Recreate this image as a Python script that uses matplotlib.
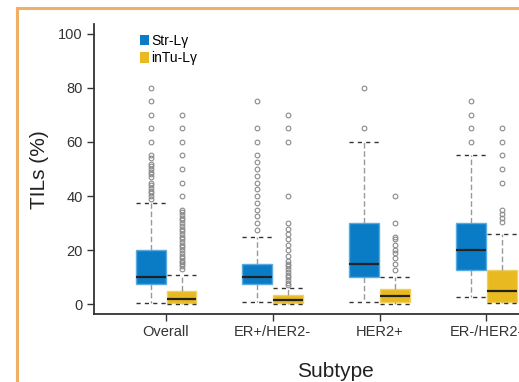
import matplotlib
matplotlib.use("Agg")
import matplotlib.pyplot as plt
from matplotlib.patches import Patch
from matplotlib.lines import Line2D

plt.rcParams['font.family'] = ['Liberation Sans Narrow', 'Liberation Sans', 'DejaVu Sans']

categories = ['Overall', 'ER+/HER2-', 'HER2+', 'ER-/HER2-']
series_names = ['Str-Lγ', 'inTu-Lγ']

# Str-Ly box statistics
str_q1 = [7.5, 7.5, 10, 12.5]
str_med = [10, 10, 15, 20]
str_q3 = [20, 15, 30, 30]
str_lo = [0.5, 1, 1, 2.5]
str_hi = [37.5, 25, 60, 55]
str_fliers = [
    [39, 40, 41, 42, 43, 44, 45, 47, 48, 49, 50, 51, 52, 54, 55, 60, 65, 70, 75, 80],
    [27.5, 30, 32.5, 35, 37.5, 40, 42.5, 45, 47.5, 50, 52.5, 55, 60, 65, 75],
    [65, 80],
    [60, 65, 70, 75],
]

# inTu-Ly box statistics
int_q1 = [0.5, 0.5, 1, 1]
int_med = [2, 1.5, 3, 5]
int_q3 = [5, 3.5, 5.5, 12.5]
int_lo = [0, 0, 0, 0.5]
int_hi = [11, 6, 10, 26]
int_fliers = [
    [13, 14, 15, 15.5, 16, 17, 18, 19, 20, 21, 22, 23, 24, 25, 26, 27, 28, 29, 30, 31,
     32, 33, 34, 35, 40, 45, 50, 55, 60, 65, 70],
    [7, 8, 9, 10, 11, 12, 13, 14, 15, 16, 18, 20, 22, 24, 26, 28, 30, 40, 60, 65, 70],
    [12.5, 15, 17, 19, 20, 22, 24, 25, 30, 40],
    [30.5, 32, 33.5, 35, 45, 50, 55, 60, 65],
]

blue = '#0a7cc6'
yellow = '#e8b920'
blue_edge = '#5aaae0'
yellow_edge = '#f2d060'

fig = plt.figure(figsize=(5.19, 3.82), dpi=100)
ax = fig.add_axes([94 / 519, 68 / 382, 436 / 519, 290 / 382])


def make_stats(q1, med, q3, lo, hi, fl):
    return [dict(q1=a, med=b, q3=c, whislo=d, whishi=e, fliers=f)
            for a, b, c, d, e, f in zip(q1, med, q3, lo, hi, fl)]


width = 0.28
offset = 0.145
common = dict(widths=width, patch_artist=True, manage_ticks=False,
              capwidths=width,
              whiskerprops=dict(color='#999999', lw=1.0, linestyle=(0, (4, 2))),
              capprops=dict(color='#333333', lw=1.0, linestyle=(0, (3, 3))),
              medianprops=dict(color='#222222', lw=1.6),
              flierprops=dict(marker='o', markersize=3.4, markerfacecolor='none',
                              markeredgecolor='#8a8a8a', markeredgewidth=0.8))

pos = list(range(len(categories)))
b1 = ax.bxp(make_stats(str_q1, str_med, str_q3, str_lo, str_hi, str_fliers),
            positions=[p - offset for p in pos],
            boxprops=dict(facecolor=blue, edgecolor=blue_edge, lw=1.0), **common)
b2 = ax.bxp(make_stats(int_q1, int_med, int_q3, int_lo, int_hi, int_fliers),
            positions=[p + offset for p in pos],
            boxprops=dict(facecolor=yellow, edgecolor=yellow_edge, lw=1.0), **common)

ax.set_xlim(-0.675, 3.41)
ax.set_ylim(-3.6, 103.6)
ax.set_xticks(pos)
ax.set_xticklabels(categories)
ax.set_yticks([0, 20, 40, 60, 80, 100])
for s in ['top', 'right']:
    ax.spines[s].set_visible(False)
for s in ['left', 'bottom']:
    ax.spines[s].set_color('#333333')
    ax.spines[s].set_linewidth(1.3)
ax.tick_params(axis='both', direction='out', length=5, width=1, color='#333333',
               labelcolor='#333333', labelsize=10.5, pad=3)

ax.set_ylabel('TILs (%)', fontsize=15, color='#222222')
ax.yaxis.set_label_coords(-0.124, 0.497)
ax.set_xlabel('Subtype', fontsize=15, color='#222222')
ax.xaxis.set_label_coords(0.553, -0.197)
ax.xaxis.label.set_va('center')
ax.yaxis.label.set_va('center')

handles = [Patch(facecolor=blue, edgecolor='none'), Patch(facecolor=yellow, edgecolor='none')]
ax.legend(handles, series_names, loc='upper left', frameon=False, fontsize=10,
          handlelength=0.65, handleheight=0.8, handletextpad=0.15, labelspacing=0.25,
          borderaxespad=0, borderpad=0,
          bbox_to_anchor=((140 - 94) / 436, (314 - 34) / 290))

frame_color = '#efb066'
fig.add_artist(Line2D([17 / 519, 17 / 519], [0, 1 - 8 / 382], transform=fig.transFigure,
                      color=frame_color, lw=2.2, solid_capstyle='projecting'))
fig.add_artist(Line2D([17 / 519, 1.0], [1 - 8 / 382, 1 - 8 / 382], transform=fig.transFigure,
                      color=frame_color, lw=2.2, solid_capstyle='projecting'))

fig.savefig('out.png', dpi=100)
